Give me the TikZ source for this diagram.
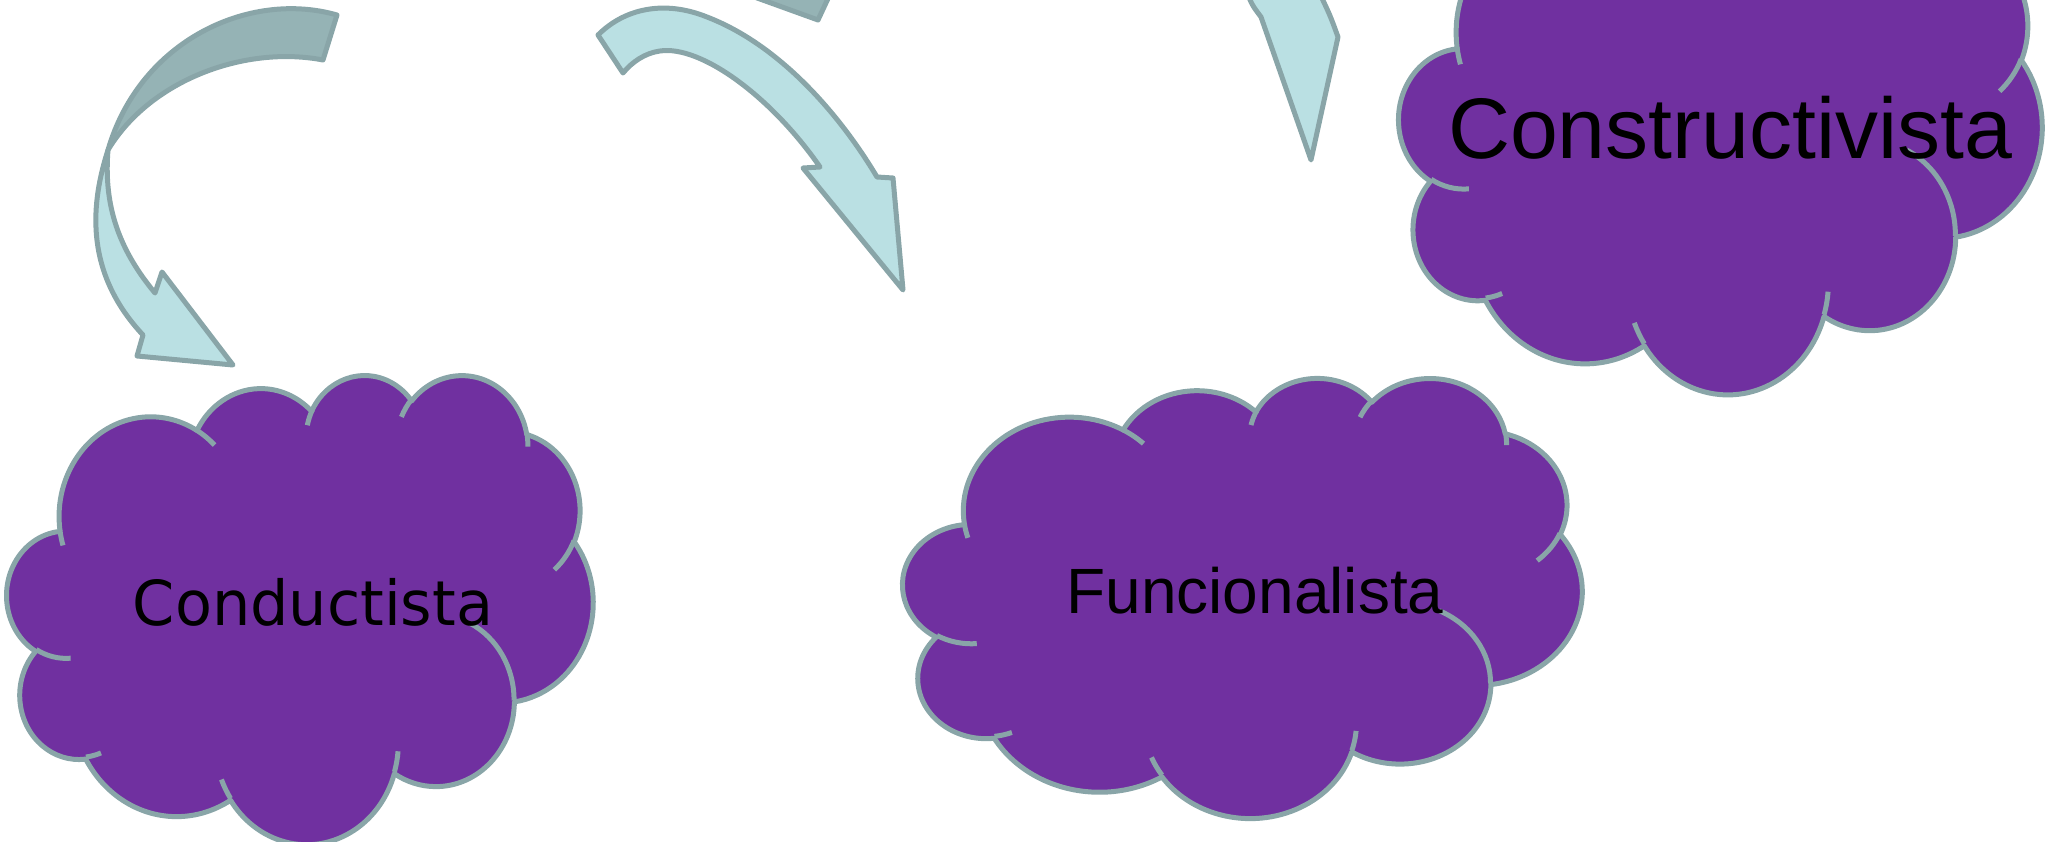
\documentclass[tikz,border=0pt]{standalone}
\usepackage{fontspec}
\setmainfont{Liberation Sans}
\newfontfamily\dejavu{DejaVu Sans}

\definecolor{cloudfill}{RGB}{112,48,160}
\definecolor{edgegray}{RGB}{137,165,168}
\definecolor{arrowlight}{RGB}{186,224,227}
\definecolor{arrowdark}{RGB}{149,179,181}

\tikzset{
  cloudbody/.style={fill=cloudfill, draw=edgegray, line width=5pt, line join=round},
  cloudrim/.style={draw=edgegray, line width=5pt},
  bentarrow/.style={fill=arrowlight, draw=edgegray, line width=5pt, line join=round},
  bentback/.style={fill=arrowdark, draw=edgegray, line width=5pt, line join=round},
  cloudtext/.style={inner sep=0pt, anchor=base, text=black},
}

% elliptic arc: x radius, y radius, start angle, sweep (angles measured
% from the ellipse centre, converted to the parametric angle)
\newcommand\carc[4]{arc[x radius=#1, y radius=#2,
  start angle={atan2(#1*sin(#3),#2*cos(#3))},
  delta angle={mod(atan2(#1*sin(#3+#4),#2*cos(#3+#4))-atan2(#1*sin(#3),#2*cos(#3))+720,360)}]}

% cloud in a 432 x 432 frame, placed at (left, top) with width and height
\newcommand\cloudat[4]{%
  \pgfmathsetmacro\cloudsx{#3/432}%
  \pgfmathsetmacro\cloudsy{#4/432}%
  \begin{scope}[shift={(#1,#2)}, x=\cloudsx pt, y=-\cloudsy pt]
    \path[cloudbody] (39.00,143.70)
      \carc{67.53}{91.90}{-190.4875}{123.7805}
      \carc{53.33}{72.67}{-144.1024}{89.9452}
      \carc{43.65}{59.45}{-145.8079}{99.7230}
      \carc{48.57}{65.95}{-130.9861}{117.2417}
      \carc{53.33}{72.73}{-78.7089}{109.0269}
      \carc{67.75}{92.20}{-46.2673}{130.2690}
      \carc{57.85}{78.67}{0.6250}{114.0333}
      \carc{67.52}{92.15}{22.4516}{115.1726}
      \carc{77.20}{105.43}{66.2426}{75.7110}
      \carc{43.60}{59.18}{-274.9421}{146.7356}
      \carc{43.45}{59.45}{-246.8285}{152.5189} -- cycle;
    \path[cloudrim]
      (46.93,261.77) \carc{43.45}{59.45}{86.7420}{26.4295}
      (69.28,348.99) \carc{43.60}{59.18}{73.6105}{11.4475}
      (164.78,390.90) \carc{67.52}{92.15}{137.6242}{14.0811}
      (288.27,347.51) \carc{67.52}{92.15}{6.4533}{15.9984}
      (341.29,229.54) \carc{57.85}{78.67}{-70.2924}{70.9174}
      (417.98,153.54) \carc{53.33}{72.73}{30.3180}{27.7515}
      (383.24,54.26) \carc{48.57}{65.95}{-13.7443}{14.8589}
      (290.78,39.52) \carc{48.57}{65.95}{-149.1815}{18.1954}
      (221.41,47.20) \carc{43.65}{59.45}{-163.4943}{17.6864}
      (140.00,51.92) \carc{67.53}{91.90}{-66.7070}{12.3194}
      (41.27,157.89) \carc{67.53}{91.90}{157.6544}{11.8582};
  \end{scope}}

\begin{document}
\begin{tikzpicture}[x=1pt, y=-1pt]
  \useasboundingbox (0,0) rectangle (2045,842);
  \clip (0,0) rectangle (2045,842);

  % the three clouds
  \cloudat{7}{374}{586}{469}
  \cloudat{903}{377}{679}{440}
  \cloudat{1399}{-125}{643}{518}

  % curved arrow on the left: folded-back band, then the head
  \coordinate (twist) at (108,150);
  \path[bentback] (337,15) .. controls (250,-10) and (140,40) .. (twist)
    .. controls (150,80) and (245,45) .. (323,60) -- cycle;
  \path[bentarrow] (twist) .. controls (92,200) and (82,270) .. (143,335)
    -- (137,356) -- (233,365) -- (162,272) -- (155,293)
    .. controls (115,245) and (104,200) .. (twist) -- cycle;

  % curved arrow in the middle
  \path[bentarrow] (598,35) .. controls (625,8) and (665,0) .. (707,17)
    .. controls (780,45) and (840,115) .. (877,177)
    -- (893,178) -- (903,290) -- (803,168) -- (820,167)
    .. controls (770,95) and (700,45) .. (660,51)
    .. controls (645,53) and (632,62) .. (623,73) -- cycle;
  \path[bentback] (735,-10) -- (818,20) -- (832,-10) -- cycle;

  % arrow head coming down from the top
  \path[bentarrow] (1246,-10) .. controls (1252,5) .. (1261,17) -- (1311,160)
    -- (1338,37) .. controls (1330,15) .. (1318,-10) -- cycle;

  % labels
  \node[cloudtext, font=\dejavu\fontsize{62}{70}\selectfont] (conductista) at (313,625) {\scalebox{0.975}[1]{Conductista}};
  \node[cloudtext, font=\fontsize{64}{72}\selectfont] (funcionalista) at (1255,613) {Funcionalista};
  \node[cloudtext, font=\fontsize{86}{96}\selectfont] (constructivista) at (1730,159) {Constructivista};
\end{tikzpicture}
\end{document}
